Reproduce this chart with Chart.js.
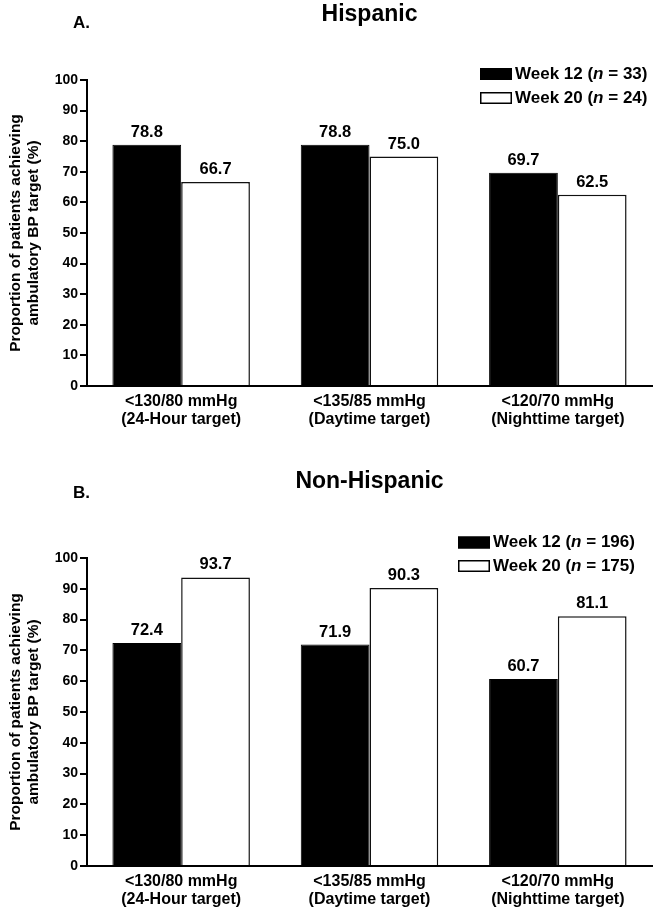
<!DOCTYPE html>
<html>
<head>
<meta charset="utf-8">
<script src="https://cdn.jsdelivr.net/npm/chart.js@4"></script>
<style>
  body { margin: 0; background: #fff; }
  .panel { position: absolute; left: 0; width: 660px; }
</style>
</head>
<body>
<div class="panel" style="top:0;height:460px"><canvas id="hispanic" width="660" height="460"></canvas></div>
<div class="panel" style="top:460px;height:455px"><canvas id="nonHispanic" width="660" height="455"></canvas></div>
<script>
// categories
const targets = [
  ['<130/80 mmHg', '(24-Hour target)'],
  ['<135/85 mmHg', '(Daytime target)'],
  ['<120/70 mmHg', '(Nighttime target)']
];
const weeks = ['Week 12', 'Week 20'];

// A. Hispanic
const hispanicWeek12 = [78.8, 78.8, 69.7];
const hispanicWeek20 = [66.7, 75.0, 62.5];
const hispanicN = [33, 24];

// B. Non-Hispanic
const nonHispanicWeek12 = [72.4, 71.9, 60.7];
const nonHispanicWeek20 = [93.7, 90.3, 81.1];
const nonHispanicN = [196, 175];

const yTicks = [0, 10, 20, 30, 40, 50, 60, 70, 80, 90, 100];
const yTitle = ['Proportion of patients achieving', 'ambulatory BP target (%)'];

const FONT = "'Liberation Sans', Arial, Helvetica, sans-serif";
Chart.defaults.font.family = FONT;
Chart.defaults.color = '#000';

// panel letter, title, value labels and legend
const panelText = {
  id: 'panelText',
  afterDraw(chart, args, o) {
    const ctx = chart.ctx;
    const area = chart.chartArea;
    ctx.save();
    ctx.fillStyle = '#000';

    ctx.textBaseline = 'middle';
    ctx.textAlign = 'left';
    ctx.font = 'bold 17px ' + FONT;
    ctx.fillText(o.letter, 73, o.letterY);

    ctx.textAlign = 'center';
    ctx.font = 'bold 23px ' + FONT;
    ctx.fillText(o.title, (area.left + area.right) / 2, o.titleY);

    // values above bars
    ctx.font = 'bold 16.5px ' + FONT;
    ctx.textBaseline = 'alphabetic';
    chart.data.datasets.forEach((ds, i) => {
      chart.getDatasetMeta(i).data.forEach((bar, j) => {
        ctx.fillText(ds.data[j].toFixed(1), bar.x, bar.y - 8);
      });
    });

    // legend
    ctx.textAlign = 'left';
    ctx.textBaseline = 'middle';
    chart.data.datasets.forEach((ds, i) => {
      const y = o.legendY + i * o.legendGap;
      ctx.fillStyle = ds.backgroundColor;
      ctx.fillRect(o.legendX, y - 6, 32, 12);
      ctx.strokeStyle = '#000';
      ctx.lineWidth = 1.5;
      ctx.strokeRect(o.legendX + 0.75, y - 5.25, 30.5, 10.5);
      ctx.fillStyle = '#000';
      let x = o.legendX + 35;
      const parts = [
        [weeks[i] + ' (', 'bold 17px '],
        ['n', 'italic bold 17px '],
        [' = ' + o.n[i] + ')', 'bold 17px ']
      ];
      parts.forEach(([t, f]) => {
        ctx.font = f + FONT;
        ctx.fillText(t, x, y);
        x += ctx.measureText(t).width;
      });
    });
    ctx.restore();
  }
};

function makePanel(id, week12, week20, opts) {
  const ctx = document.getElementById(id).getContext('2d');
  return new Chart(ctx, {
    type: 'bar',
    data: {
      labels: targets,
      datasets: [{
        label: weeks[0],
        data: week12,
        backgroundColor: '#000',
        borderColor: '#000',
        borderWidth: 1
      }, {
        label: weeks[1],
        data: week20,
        backgroundColor: '#fff',
        borderColor: '#111',
        borderWidth: 1.5
      }]
    },
    options: {
      responsive: false,
      animation: false,
      layout: { padding: { top: opts.top, right: 8, left: 0, bottom: 0 } },
      datasets: { bar: { categoryPercentage: 0.73, barPercentage: 1 } },
      plugins: {
        legend: { display: false },
        tooltip: { enabled: false },
        panelText: opts
      },
      scales: {
        x: {
          grid: { display: false, drawTicks: false },
          border: { display: true, color: '#000', width: 2 },
          ticks: { padding: 6, font: { size: 16, weight: 'bold', lineHeight: 1.15 }, color: '#000' },
          afterFit(scale) { scale.height = opts.xHeight; }
        },
        y: {
          min: 0,
          max: 100,
          afterBuildTicks(scale) { scale.ticks = yTicks.map(v => ({ value: v })); },
          grid: { display: true, drawOnChartArea: false, drawTicks: true, tickLength: 7, color: '#000', lineWidth: 2 },
          border: { display: true, color: '#000', width: 2 },
          ticks: { padding: 2, font: { size: 14, weight: 'bold' }, color: '#000' },
          title: {
            display: true,
            text: yTitle,
            color: '#000',
            font: { size: 15.5, weight: 'bold', lineHeight: 1.2 },
            padding: { top: 6, bottom: 0 }
          },
          afterFit(scale) { scale.width = 87; }
        }
      }
    },
    plugins: [panelText]
  });
}

makePanel('hispanic', hispanicWeek12, hispanicWeek20, {
  top: 80, xHeight: 74,
  letter: 'A.', letterY: 23,
  title: 'Hispanic', titleY: 14.5,
  legendX: 480, legendY: 74, legendGap: 24,
  n: hispanicN
});

makePanel('nonHispanic', nonHispanicWeek12, nonHispanicWeek20, {
  top: 98, xHeight: 49,
  letter: 'B.', letterY: 33.5,
  title: 'Non-Hispanic', titleY: 21.5,
  legendX: 458, legendY: 82.5, legendGap: 23.5,
  n: nonHispanicN
});
</script>
</body>
</html>
